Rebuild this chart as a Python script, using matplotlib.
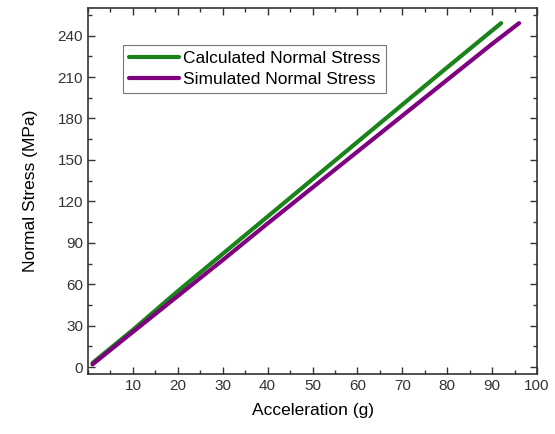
import matplotlib
matplotlib.use("Agg")
import matplotlib.pyplot as plt
from matplotlib.ticker import MultipleLocator

plt.rcParams["font.family"] = ["Liberation Sans", "DejaVu Sans"]

# values
calc_acc = [1, 10, 20, 30, 40, 50, 60, 70, 80, 92]
calc_stress = [3, 27, 55, 82, 109, 136, 163, 190, 217, 249]
sim_acc = [1, 10, 20, 30, 40, 50, 60, 70, 80, 90, 96]
sim_stress = [2, 25.5, 51.5, 77.5, 104, 130, 156, 182, 208, 234, 249]

x_ticks = [10, 20, 30, 40, 50, 60, 70, 80, 90, 100]
y_ticks = [0, 30, 60, 90, 120, 150, 180, 210, 240]

fig = plt.figure(figsize=(5.55, 4.34), dpi=100)
ax = fig.add_axes([0.1586, 0.1382, 0.809, 0.8434])

ax.plot(calc_acc, calc_stress, color="#1a841a", lw=3, solid_capstyle="round",
        label="Calculated Normal Stress")
ax.plot(sim_acc, sim_stress, color="#800080", lw=3, solid_capstyle="round",
        label="Simulated Normal Stress")

ax.set_xlim(0, 100)
ax.set_ylim(-5, 260)
ax.set_xticks(x_ticks)
ax.set_yticks(y_ticks)
ax.xaxis.set_minor_locator(MultipleLocator(5))
ax.yaxis.set_minor_locator(MultipleLocator(15))
ax.tick_params(which="both", direction="in", top=True, right=True,
               labelsize=11, colors="#333333", width=1)
ax.tick_params(which="major", length=5)
ax.tick_params(which="minor", length=3)
for sp in ax.spines.values():
    sp.set_color("#333333")
    sp.set_linewidth(1.2)

ax.set_xlabel("Acceleration (g)", fontsize=12.5, labelpad=7)
ax.set_ylabel("Normal Stress (MPa)", fontsize=12.5, labelpad=14)

leg = ax.legend(loc="upper left", bbox_to_anchor=(0.078, 0.899), fontsize=12.5,
                frameon=True, fancybox=False, handlelength=2.9,
                handletextpad=0.2, borderpad=0.35, labelspacing=0.35,
                borderaxespad=0)
leg.get_frame().set_edgecolor("#555555")
leg.get_frame().set_linewidth(0.8)

fig.savefig("out.png", dpi=100)
